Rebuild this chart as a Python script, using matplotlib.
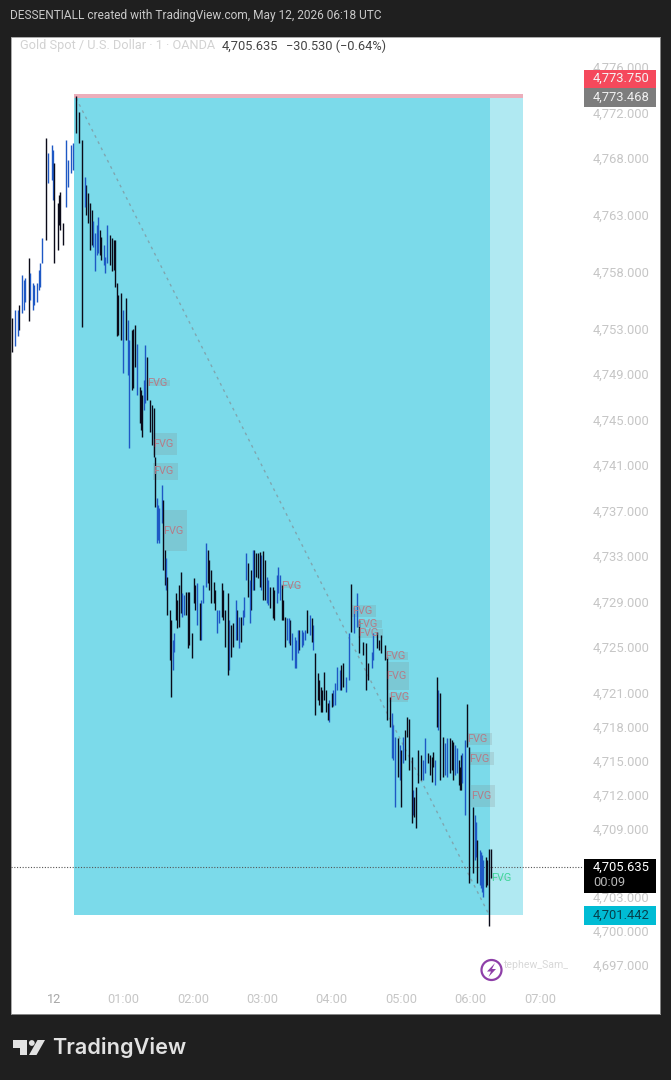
import matplotlib
matplotlib.use("Agg")
import matplotlib.pyplot as plt
from matplotlib.patches import Rectangle, Circle, Polygon
from matplotlib.transforms import IdentityTransform

plt.rcParams['font.family'] = ['Roboto', 'DejaVu Sans']

W, H = 671, 1080

# minutes after 00:00 on the 12th
bar_minutes = [-36, -34, -31, -28, -25, -22, -21, -18, -15, -12, -10, -7, -5, -2, 0, 3, 5, 8, 10, 12, 15, 16, 19, 22,
               24, 27, 29, 31, 34, 35, 38, 41, 44, 46, 50, 53, 54, 58, 60, 62, 65, 68, 70, 72, 74, 76, 79, 80, 83, 86,
               87, 89, 91, 93, 94, 97, 98, 101, 103, 105, 108, 110, 111, 114, 116, 119, 121, 124, 126, 129, 131, 133,
               136, 138, 141, 143, 145, 148, 150, 153, 155, 157, 160, 162, 164, 166, 168, 169, 172, 175, 178, 181,
               184, 187, 189, 193, 194, 197, 200, 203, 206, 208, 211, 214, 217, 219, 223, 226, 228, 231, 233, 237,
               240, 243, 245, 250, 252, 255, 257, 259, 262, 264, 267, 270, 271, 275, 276, 279, 281, 283, 286, 288,
               290, 292, 295, 297, 300, 302, 305, 307, 309, 311, 313, 315, 319, 321, 323, 327, 328, 331, 334, 336,
               340, 342, 345, 348, 351, 353, 355, 357, 359, 362, 365, 366, 369, 371, 373, 376, 378]

highs = [4753.9, 4754.6, 4754.6, 4757.7, 4757.4, 4759.2, 4757.9, 4757.0, 4757.0, 4758.8, 4761.0, 4769.8, 4768.4, 4769.1,
         4767.55, 4764.0, 4765.0, 4762.3, 4769.6, 4767.8, 4769.1, 4769.3, 4773.45, 4772.0, 4769.6, 4766.3, 4764.9,
         4764.0, 4762.5, 4761.4, 4762.8, 4761.05, 4759.3, 4762.1, 4761.0, 4760.8, 4757.0, 4756.1, 4754.6, 4755.7,
         4752.0, 4753.0, 4753.3, 4751.6, 4747.85, 4747.15, 4751.55, 4750.5, 4746.7, 4746.0, 4741.7, 4738.1, 4737.2,
         4739.2, 4737.9, 4732.8, 4731.15, 4727.35, 4725.6, 4729.75, 4730.45, 4731.6, 4729.75, 4729.8, 4729.8, 4726.2,
         4731.05, 4730.6, 4728.85, 4730.45, 4734.15, 4733.5, 4731.75, 4730.7, 4728.2, 4728.2, 4730.6, 4728.2, 4729.75,
         4726.9, 4727.1, 4729.1, 4727.6, 4727.6, 4729.4, 4733.25, 4732.4, 4730.9, 4733.5, 4733.25, 4733.35, 4733.45,
         4731.15, 4730.25, 4730.25, 4731.3, 4732.0, 4730.45, 4727.6, 4727.55, 4726.2, 4725.85, 4726.5, 4726.5, 4726.5,
         4728.2, 4727.55, 4724.45, 4722.7, 4721.5, 4722.8, 4720.05, 4720.95, 4721.8, 4723.2, 4723.55, 4722.35, 4726.2,
         4730.5, 4728.5, 4729.75, 4727.35, 4725.4, 4725.35, 4723.55, 4724.55, 4726.2, 4726.3, 4725.6, 4726.05, 4725.15,
         4724.1, 4720.6, 4719.2, 4717.05, 4717.0, 4715.9, 4717.05, 4718.8, 4718.7, 4715.3, 4711.8, 4712.7, 4715.9,
         4715.05, 4717.0, 4715.65, 4715.3, 4715.75, 4722.35, 4720.95, 4717.05, 4717.0, 4717.0, 4716.6, 4716.1, 4714.4,
         4715.65, 4716.8, 4720.0, 4716.2, 4710.9, 4709.6, 4708.0, 4707.0, 4706.25, 4706.5, 4707.2, 4707.2]

lows = [4750.9, 4751.5, 4752.3, 4754.4, 4755.3, 4753.7, 4755.5, 4754.6, 4755.3, 4756.65, 4758.8, 4760.8, 4765.8, 4766.1,
        4758.8, 4759.9, 4761.65, 4760.35, 4763.7, 4765.45, 4766.7, 4766.95, 4770.2, 4769.3, 4753.1, 4763.7, 4762.3,
        4759.9, 4760.2, 4758.1, 4759.6, 4759.0, 4757.9, 4758.8, 4758.1, 4756.65, 4752.3, 4752.0, 4749.1, 4752.0,
        4742.5, 4747.8, 4749.6, 4747.15, 4744.7, 4743.45, 4746.45, 4746.7, 4743.9, 4741.7, 4737.3, 4734.1, 4734.1,
        4735.9, 4731.8, 4730.0, 4727.8, 4720.6, 4723.0, 4727.35, 4726.75, 4728.0, 4727.6, 4727.8, 4724.9, 4724.0,
        4728.85, 4726.9, 4725.6, 4728.85, 4730.25, 4730.6, 4728.85, 4728.85, 4726.2, 4727.1, 4727.6, 4725.0, 4722.5,
        4724.1, 4725.0, 4725.6, 4724.9, 4725.4, 4727.6, 4730.9, 4729.4, 4727.1, 4730.0, 4731.15, 4730.25, 4729.1,
        4728.85, 4728.4, 4727.5, 4728.85, 4729.75, 4727.35, 4725.0, 4725.3, 4723.85, 4723.15, 4724.45, 4725.0, 4725.6,
        4726.2, 4725.4, 4719.0, 4720.3, 4719.3, 4720.3, 4718.55, 4719.7, 4719.9, 4721.2, 4721.5, 4721.05, 4722.1,
        4726.3, 4726.2, 4726.75, 4724.45, 4724.3, 4721.2, 4722.1, 4723.15, 4723.85, 4724.9, 4724.7, 4724.45, 4723.85,
        4718.55, 4717.95, 4715.2, 4710.9, 4713.55, 4710.9, 4714.8, 4717.05, 4714.15, 4709.5, 4710.05, 4709.05, 4713.0,
        4713.3, 4713.9, 4714.8, 4713.1, 4714.4, 4717.95, 4713.3, 4713.55, 4713.55, 4713.9, 4713.3, 4713.9, 4712.4,
        4713.0, 4710.2, 4716.2, 4704.2, 4705.1, 4706.5, 4704.2, 4703.8, 4703.0, 4703.9, 4700.45, 4704.7]

# k = black candle, b = blue candle
bar_colors = ("kbbbbkbbbb" "bkbbkkkkbb" "bbkkkbkkbb" "bkbbkkkkbk" "bkkbkkbkkk" "kbbbkbkkbk" "kkbkkkkbkb" "bkkkbbkkkk"
              "kbbkbbkbbk" "kkbkkbbkkb" "bbbbbkkkkk" "kkkbbkbbkb" "bkkkkbbkkk" "kkkbbkkbkk" "kkkkbbkkkk" "kkbkkbkbbk"
              "kkbkbbkkk")

# the candles in between, read in a second pass
extra_minutes = [-30, -26, -17, -13, -1, 4, 28, 33, 37, 40, 43, 48, 52, 55, 64, 67, 75, 78, 85, 90, 96, 100, 104, 106,
                 112, 117, 122, 127, 134, 139, 146, 151, 158, 163, 170, 173, 176, 179, 182, 185, 190, 195, 198, 201,
                 204, 209, 212, 215, 221, 224, 229, 232, 235, 238, 241, 247, 248, 293, 299, 303, 310, 317, 325, 329,
                 332, 338, 344, 347, 350, 352, 364, 368, 370, 374]
extra_highs = [4755.05, 4757.25, 4756.8, 4758.15, 4768.7, 4764.75, 4765.6, 4763.45, 4762.1, 4761.65, 4760.35, 4761.2,
               4760.8, 4755.95, 4753.75, 4752.85, 4747.6, 4748.45, 4746.3, 4737.5, 4733.5, 4728.25, 4726.2, 4729.1,
               4729.55, 4729.8, 4730.45, 4729.1, 4732.65, 4730.0, 4730.0, 4727.35, 4728.25, 4728.25, 4731.75, 4733.5,
               4733.25, 4733.05, 4732.65, 4730.9, 4730.0, 4731.3, 4729.1, 4727.55, 4727.35, 4725.6, 4726.5, 4726.3,
               4727.8, 4726.9, 4722.1, 4721.2, 4721.2, 4720.3, 4721.2, 4723.0, 4723.4, 4718.1, 4716.4, 4717.7, 4712.4,
               4715.5, 4715.5, 4715.05, 4721.2, 4716.55, 4716.8, 4716.4, 4715.05, 4715.5, 4710.2, 4707.15, 4706.7,
               4706.25]
extra_lows = [4752.85, 4754.6, 4755.05, 4756.4, 4764.3, 4762.1, 4763.0, 4760.35, 4759.45, 4759.45, 4758.6, 4758.6,
              4758.15, 4752.45, 4748.9, 4747.6, 4744.1, 4745.8, 4742.75, 4734.4, 4730.45, 4723.85, 4724.55, 4726.65,
              4727.8, 4725.15, 4728.25, 4725.6, 4730.0, 4728.25, 4727.35, 4722.95, 4725.6, 4726.9, 4728.25, 4730.0,
              4731.05, 4730.0, 4729.1, 4728.7, 4727.35, 4729.1, 4727.35, 4725.6, 4725.15, 4723.15, 4724.7, 4725.15,
              4726.05, 4724.7, 4719.9, 4719.3, 4719.3, 4718.4, 4719.8, 4721.2, 4721.2, 4715.05, 4713.3, 4715.05,
              4710.2, 4713.3, 4713.75, 4712.85, 4717.7, 4713.75, 4714.15, 4713.75, 4712.85, 4712.4, 4706.25, 4704.05,
              4703.45, 4704.05]
extra_colors = "kbbbbkkkbkbkkkbkkbkbkk" "bkbkkbkkkbkbkkkbkbkbkbkb" "kbbbkkkbbbkbbkbkkbbbkb" "kkbbbk"

price_ticks = [4776, 4772, 4768, 4763, 4758, 4753, 4749, 4745, 4741, 4737, 4733, 4729, 4725, 4721, 4718, 4715, 4712,
               4709, 4706, 4703, 4700, 4697]
time_ticks = [0, 60, 120, 180, 240, 300, 360, 420]
time_labels = ['12', '01:00', '02:00', '03:00', '04:00', '05:00', '06:00', '07:00']

# fair value gaps: start, end, top, bottom
fvg_start = [80.4, 85.6, 85.6, 94.2, 196.2, 257.6, 261.9, 262.8, 286.1, 286.9, 289.5, 357, 358.7, 360.4]
fvg_end = [100.3, 106.3, 107.2, 115, 212.6, 278.3, 283.5, 284.4, 306, 306.8, 306, 378.6, 380.3, 381.2]
fvg_top = [4748.47, 4743.81, 4741.17, 4737.04, 4730.53, 4728.68, 4727.37, 4726.58, 4724.55, 4723.67, 4720.95, 4717.43,
           4715.75, 4712.85]
fvg_bot = [4747.94, 4741.88, 4739.68, 4733.43, 4730.18, 4727.63, 4726.66, 4725.79, 4723.85, 4721.21, 4720.15, 4716.37,
           4714.61, 4710.92]

zone_start, zone_mid, zone_end = 17.3, 376.8, 405.3
zone_top, stop_top, zone_bottom = 4773.27, 4773.6, 4701.442
last_price = 4705.635

fig = plt.figure(figsize=(W / 100, H / 100), dpi=100, facecolor='#1f1f1f')
ax = fig.add_axes([11 / W, (H - 1014) / H, 649 / W, 977 / H])
ax.set_xlim(-37.2, 523.8)
ax.set_ylim(4692.71, 4778.64)

# short position zone
ax.add_patch(Rectangle((zone_start, zone_bottom), zone_mid - zone_start, zone_top - zone_bottom, color='#7bdaea', lw=0, zorder=1))
ax.add_patch(Rectangle((zone_mid, zone_bottom), zone_end - zone_mid, zone_top - zone_bottom, color='#b0e9f2', lw=0, zorder=1))
ax.add_patch(Rectangle((zone_start, zone_top), zone_end - zone_start, stop_top - zone_top, color='#ecaebb', lw=0, zorder=1))
ax.plot([19, 376], [zone_top, zone_bottom], color='#7fa6b0', lw=1, ls=(0, (2, 3)), zorder=2)

for t0, t1, top, bot in zip(fvg_start, fvg_end, fvg_top, fvg_bot):
    ax.add_patch(Rectangle((t0, bot), t1 - t0, top - bot, color='#808080', alpha=0.2, lw=0, zorder=2))
    ax.text(t0, (top + bot) / 2, 'FVG', color='#b47c88', fontsize=7.8, va='center', ha='left', zorder=4)

ax.add_patch(Rectangle((377.7, 4704.5), 15.6, 0.35, color='#808080', alpha=0.1, lw=0, zorder=2))
ax.text(377.7, 4704.67, 'FVG', color='#3fd69a', fontsize=7.8, va='center', ha='left', zorder=4)

ax.axhline(last_price, xmax=(583 - 11) / 649, color='#555555', lw=0.8, ls=(0, (1, 1.5)), zorder=3)

# candles
colors = ['#0a0a18' if c == 'k' else '#1e58c4' for c in bar_colors]
extra = ['#0a0a18' if c == 'k' else '#1e58c4' for c in extra_colors]
ax.vlines(extra_minutes, extra_lows, extra_highs, colors=extra, lw=0.95, zorder=3)
ax.vlines(bar_minutes, lows, highs, colors=colors, lw=1.0, zorder=3)

ax.yaxis.tick_right()
ax.set_yticks(price_ticks)
ax.set_yticklabels(['{:,.3f}'.format(p) for p in price_ticks])
ax.tick_params(axis='y', length=0, pad=-48.5, labelsize=9.4, labelcolor='#c6c6c6')
for t in ax.get_yticklabels():
    t.set_va('center_baseline')
ax.set_xticks(time_ticks)
ax.set_xticklabels(time_labels)
ax.tick_params(axis='x', length=0, pad=-15.3, labelsize=9.2, labelcolor='#c6c6c6')
ax.get_xticklabels()[0].set_color('#a8a8a8')
for s in ax.spines.values():
    s.set_color('#9a9a9a')
    s.set_linewidth(0.6)


def fx(x):
    return x / W


def fy(y):
    return 1 - y / H


def box(x0, y0, x1, y1, color):
    fig.add_artist(Rectangle((fx(x0), fy(y1)), fx(x1) - fx(x0), fy(y0) - fy(y1), color=color, lw=0, zorder=5,
                             transform=fig.transFigure))


def label(x, y, s, color, size=9.4, **kw):
    fig.text(fx(x), fy(y), s, color=color, fontsize=size, va='center', zorder=6, **kw)


def poly(points, color):
    fig.add_artist(Polygon([(fx(x), fy(y)) for x, y in points], color=color, lw=0, zorder=6, transform=fig.transFigure))


def disc(x, y, r, **kw):
    fig.add_artist(Circle((x, H - y), r, zorder=5, transform=IdentityTransform(), **kw))


# price labels
box(584, 70, 656, 88, '#f5495c')
box(584, 88, 656, 107, '#7d7d7d')
box(584, 859, 656, 893, '#000000')
box(584, 906, 656, 925, '#00bcd4')
label(593, 78, '4,773.750', '#f4f4f4')
label(593, 97, '4,773.468', '#f0f0f0')
label(593, 867, '4,705.635', '#ffffff')
label(593, 882, '00:09', '#b8b8b8')
label(593, 915, '4,701.442', '#06404c')

# header and legend
label(10, 16, 'DESSENTIALL created with TradingView.com, May 12, 2026 06:18 UTC', '#c9c9c9', size=8.6)
label(20, 46, 'Gold Spot / U.S. Dollar · 1 · OANDA', '#d2d2d2', size=9.2)
label(222, 46, '4,705.635', '#444444', size=9.3)
label(286, 46, '−30.530 (−0.64%)', '#444444', size=9.2)

# watermark
label(503, 965, 'tephew_Sam_', '#d8d8d8', size=7.6)
disc(491.5, 970, 10, fill=False, ec='#8e3fa8', lw=1.6)
poly([(495, 963), (487, 971.5), (491, 971.5), (488.5, 977), (496, 969), (492, 969)], '#8e3fa8')

# TradingView logo
logo = '#e2e2e2'
poly([(13, 1040), (27.5, 1040), (27.5, 1055), (20, 1055), (20, 1047.5), (13, 1047.5)], logo)
disc(31.8, 1043, 2.9, color=logo, lw=0)
poly([(37.5, 1040), (45, 1040), (36.5, 1055), (29, 1055)], logo)
fig.text(fx(52), fy(1048), 'TradingView', color=logo, fontsize=15.6, fontweight='semibold', va='center',
         family=['Inter', 'DejaVu Sans'])

fig.savefig('out.png', dpi=100, facecolor=fig.get_facecolor())
